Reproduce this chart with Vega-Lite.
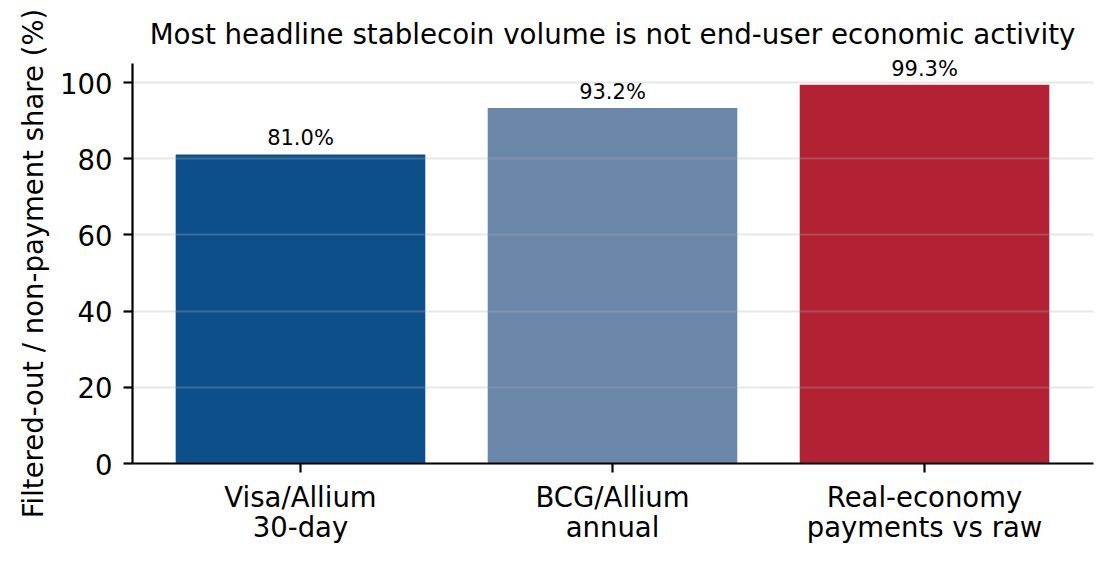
{
  "$schema": "https://vega.github.io/schema/vega-lite/v6.json",
  "width": 961,
  "height": 400,
  "autosize": {"type": "none"},
  "padding": {"left": 132, "top": 63, "right": 19, "bottom": 101},
  "background": "white",
  "config": {"view": {"stroke": null}, "font": "DejaVu Sans"},
  "title": {
    "text": "Most headline stablecoin volume is not end-user economic activity",
    "font": "DejaVu Sans",
    "fontSize": 27.7,
    "fontWeight": "normal",
    "color": "black",
    "anchor": "middle",
    "frame": "group",
    "baseline": "alphabetic",
    "offset": 0,
    "dy": 63
  },
  "data": {
    "values": [
      {"source": "Visa/Allium|30-day", "share": 81.0},
      {"source": "BCG/Allium|annual", "share": 93.2},
      {"source": "Real-economy|payments vs raw", "share": 99.3}
    ]
  },
  "encoding": {
    "x": {
      "field": "source",
      "type": "nominal",
      "sort": null,
      "scale": {"paddingInner": 0.2, "paddingOuter": 0.14},
      "axis": {
        "title": null,
        "labelAngle": 0,
        "labelExpr": "split(datum.label, '|')",
        "labelFont": "DejaVu Sans",
        "labelFontSize": 27.5,
        "labelColor": "black",
        "labelLineHeight": 30,
        "labelBaseline": "top",
        "labelPadding": 12.7,
        "labelLimit": 500,
        "tickSize": 9,
        "tickWidth": 2.2,
        "tickColor": "black",
        "domainColor": "black",
        "domainWidth": 2.2,
        "grid": false,
        "zindex": 1
      }
    },
    "y": {
      "field": "share",
      "type": "quantitative",
      "scale": {"domain": [0, 105], "nice": false},
      "axis": {
        "title": "Filtered-out / non-payment share (%)",
        "titleFont": "DejaVu Sans",
        "titleFontSize": 27.5,
        "titleFontWeight": "normal",
        "titleColor": "black",
        "titleAngle": 270,
        "titleAlign": "center",
        "titleBaseline": "alphabetic",
        "titleX": -90,
        "titleY": 200,
        "titleLimit": 800,
        "values": [0, 20, 40, 60, 80, 100],
        "labelFont": "DejaVu Sans",
        "labelFontSize": 27.5,
        "labelColor": "black",
        "labelBaseline": "alphabetic",
        "labelOffset": 11,
        "labelPadding": 11,
        "tickSize": 9,
        "tickWidth": 2.2,
        "tickColor": "black",
        "domainColor": "black",
        "domainWidth": 2.2,
        "grid": true,
        "gridColor": "#b0b0b0",
        "gridOpacity": 0.3,
        "gridWidth": 1.8,
        "zindex": 1
      }
    }
  },
  "layer": [
    {
      "mark": {"type": "bar"},
      "encoding": {
        "color": {
          "field": "source",
          "type": "nominal",
          "scale": {
            "domain": ["Visa/Allium|30-day", "BCG/Allium|annual", "Real-economy|payments vs raw"],
            "range": ["#0c4f8a", "#6a87aa", "#b22234"]
          },
          "legend": null
        }
      }
    },
    {
      "transform": [{"calculate": "format(datum.share, '.1f') + '%'", "as": "label"}],
      "mark": {"type": "text", "baseline": "alphabetic", "dy": -9, "fontSize": 21, "font": "DejaVu Sans", "color": "black"},
      "encoding": {"text": {"field": "label"}}
    }
  ]
}
